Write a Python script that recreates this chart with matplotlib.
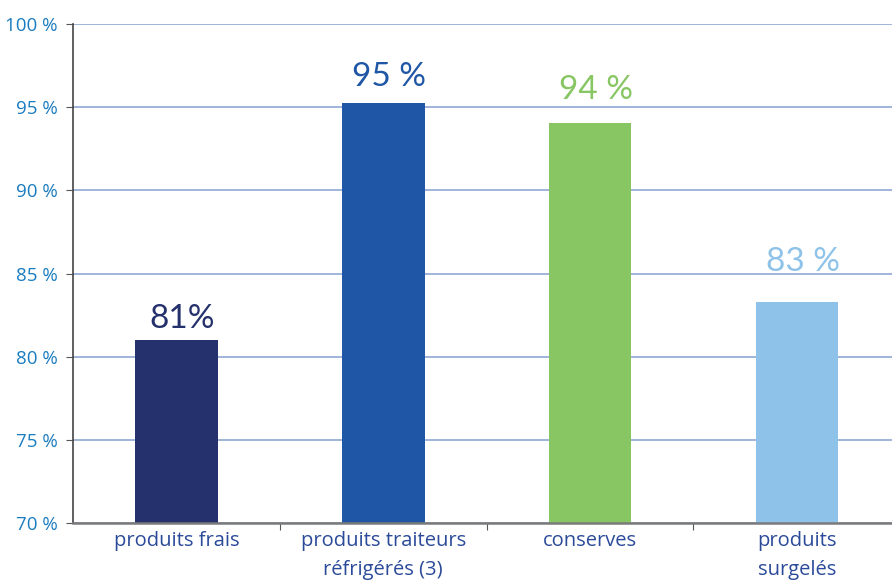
import matplotlib
matplotlib.use("Agg")
import matplotlib.pyplot as plt

categories = ["produits frais", "produits traiteurs\nréfrigérés (3)", "conserves", "produits\nsurgelés"]
values = [81.0, 95.25, 94.05, 83.3]
value_labels = ["81%", "95 %", "94 %", "83 %"]
colors = ["#25316c", "#1f56a5", "#88c663", "#8ec2e8"]
label_offsets = [6, 11, 18, 25]  # px above bar
yticks = [70, 75, 80, 85, 90, 95, 100]
ytick_labels = ["70 %", "75 %", "80 %", "85 %", "90 %", "95 %", "100 %"]

plt.rcParams['font.family'] = ['Open Sans', 'DejaVu Sans']

fig = plt.figure(figsize=(8.92, 5.8), dpi=100)
ax = fig.add_axes([73/892, 57/580, 819/892, 499/580])

x = list(range(len(categories)))
bars = ax.bar(x, values, width=0.40, color=colors, zorder=3, bottom=0)
ax.set_ylim(70, 100)
ax.set_xlim(-0.5, 3.46)

for xi, v, lab, c, off in zip(x, values, value_labels, colors, label_offsets):
    ax.annotate(lab, (xi + 0.03, v), xytext=(0, off), textcoords="offset pixels",
                ha="center", va="bottom", fontsize=24, color=c,
                family=["Lato", "DejaVu Sans"])

ax.set_yticks(yticks)
ax.set_yticklabels(ytick_labels, color="#1a7cc0", fontsize=13.5)
ax.yaxis.grid(True, color="#90a8d4", lw=1.2, zorder=0)
ax.tick_params(axis="y", length=5, color="#555555", pad=6)

ax.set_xticks([i + 0.5 for i in x[:-1]], minor=False)
ax.set_xticklabels([])
ax.set_xticks(x, minor=True)
ax.set_xticklabels(categories, minor=True, color="#2b4a99", fontsize=14.5, linespacing=1.55)
ax.tick_params(axis="x", which="minor", length=0, pad=6)
ax.tick_params(axis="x", which="major", length=5, color="#555555", direction="out")

for s in ["top", "right"]:
    ax.spines[s].set_visible(False)
ax.spines["left"].set_color("#444444")
ax.spines["left"].set_linewidth(1.2)
ax.spines["bottom"].set_color("#7a7a7a")
ax.spines["bottom"].set_linewidth(1.8)
ax.spines["bottom"].set_zorder(4)

fig.savefig("out.png", dpi=100)
